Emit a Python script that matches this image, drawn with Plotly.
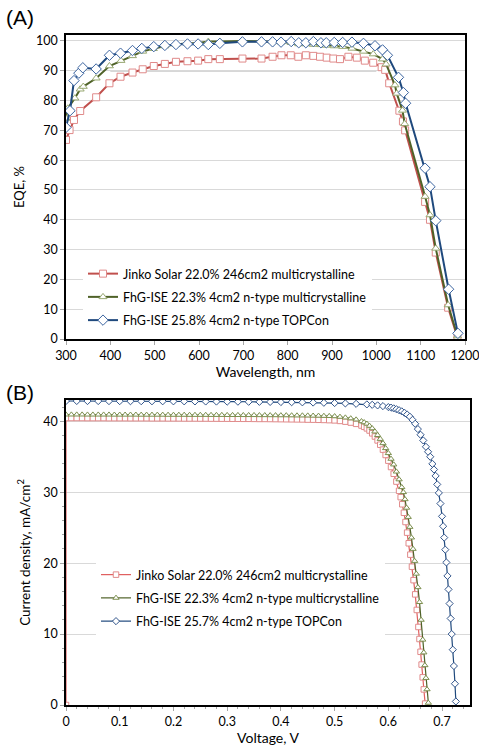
import plotly.graph_objects as go

# ---------------- (A) EQE data ----------------
names_eqe = ["Jinko Solar 22.0% 246cm2 multicrystalline",
             "FhG-ISE 22.3% 4cm2 n-type multicrystalline",
             "FhG-ISE 25.8% 4cm2 n-type TOPCon"]

wl_jinko = [300, 308, 318, 332, 368, 398, 423, 450, 473, 498, 523, 548, 574, 598, 621, 647, 698, 741, 766,
            786, 807, 824, 841, 858, 873, 888, 903, 918, 937, 956, 974, 993, 1012, 1020, 1029, 1052, 1060,
            1065, 1110, 1121, 1134, 1162, 1183]
eqe_jinko = [66.8, 70.1, 73.5, 76.5, 81.1, 85.8, 88.0, 89.4, 90.5, 91.6, 92.3, 93.0, 93.2, 93.4, 93.9, 93.9,
             94.1, 94.1, 94.7, 95.2, 95.2, 94.7, 95.2, 95.0, 94.7, 94.4, 94.1, 93.9, 94.7, 94.4, 93.4, 92.7,
             91.2, 90.3, 85.8, 76.6, 73.0, 70.0, 46.0, 40.0, 29.0, 10.5, 0.5]

wl_fhg_mc = [300, 304, 320, 332, 339, 368, 398, 424, 450, 473, 497, 523, 548, 574, 598, 621, 647, 698, 741,
             766, 785, 808, 825, 841, 858, 875, 887, 905, 924, 945, 971, 993, 1014, 1022, 1042, 1046, 1059,
             1064, 1110, 1121, 1134, 1162, 1183]
eqe_fhg_mc = [74.0, 77.4, 80.8, 83.8, 84.7, 87.5, 91.6, 93.4, 95.0, 96.5, 97.4, 98.3, 98.8, 99.2, 99.3, 99.8,
              99.8, 100.0, 99.9, 99.8, 99.6, 99.4, 99.0, 99.0, 98.8, 98.7, 98.5, 98.3, 98.1, 97.5, 96.5, 95.6,
              93.9, 92.2, 85.2, 82.4, 76.7, 72.2, 47.8, 41.6, 30.4, 11.4, 1.0]

wl_topcon = [300, 309, 318, 329, 338, 368, 398, 423, 450, 471, 498, 523, 548, 574, 598, 621, 647, 698, 741,
             766, 785, 808, 825, 841, 858, 875, 887, 905, 924, 945, 971, 997, 1014, 1025, 1050, 1061, 1066,
             1110, 1121, 1134, 1163, 1184]
eqe_topcon = [71.0, 76.6, 86.7, 89.2, 91.0, 90.6, 95.2, 95.9, 96.8, 97.5, 98.1, 98.5, 98.8, 99.0, 99.0, 98.8,
              99.2, 99.7, 99.7, 99.7, 99.6, 99.8, 99.4, 99.4, 99.8, 99.4, 99.4, 99.5, 99.5, 99.6, 99.2, 98.4,
              97.0, 95.2, 87.8, 82.7, 79.1, 57.3, 51.1, 39.7, 16.7, 1.9]

# ---------------- (B) J-V data ----------------
names_jv = ["Jinko Solar 22.0% 246cm2 multicrystalline",
            "FhG-ISE 22.3% 4cm2 n-type multicrystalline",
            "FhG-ISE 25.7% 4cm2 n-type TOPCon"]

v_flat_fine = [0.00, 0.01, 0.02, 0.03, 0.04, 0.05, 0.06, 0.07, 0.08, 0.09,
               0.10, 0.11, 0.12, 0.13, 0.14, 0.15, 0.16, 0.17, 0.18, 0.19,
               0.20, 0.21, 0.22, 0.23, 0.24, 0.25, 0.26, 0.27, 0.28, 0.29,
               0.30, 0.31, 0.32, 0.33, 0.34, 0.35, 0.36, 0.37, 0.38, 0.39,
               0.40, 0.41, 0.42, 0.43, 0.44, 0.45, 0.46, 0.47, 0.48, 0.49, 0.50]

v_jinko_knee = [0.51, 0.52, 0.53, 0.54, 0.55, 0.555, 0.56, 0.565, 0.57, 0.575, 0.58, 0.585, 0.59, 0.595, 0.60,
                0.605, 0.61, 0.615, 0.62, 0.623, 0.626, 0.629, 0.632, 0.635, 0.638, 0.641, 0.644, 0.647, 0.650,
                0.653, 0.656, 0.658, 0.660, 0.662, 0.664, 0.666, 0.6685]
j_jinko_flat = [40.46, 40.46, 40.46, 40.46, 40.45, 40.45, 40.45, 40.45, 40.44, 40.44,
                40.44, 40.44, 40.43, 40.43, 40.43, 40.43, 40.42, 40.42, 40.42, 40.41,
                40.41, 40.41, 40.40, 40.40, 40.40, 40.39, 40.39, 40.38, 40.38, 40.37,
                40.37, 40.36, 40.36, 40.35, 40.35, 40.34, 40.33, 40.33, 40.32, 40.31,
                40.30, 40.29, 40.28, 40.27, 40.26, 40.24, 40.23, 40.21, 40.19, 40.16, 40.13]
j_jinko_knee = [40.05, 39.95, 39.82, 39.64, 39.4, 39.22, 39.0, 38.7, 38.3, 37.85, 37.3, 36.7, 36.0, 35.25, 34.45,
                33.55, 32.6, 31.5, 30.2, 29.3, 28.3, 27.1, 25.8, 24.3, 22.8, 21.2, 19.5, 17.6, 15.6,
                13.4, 11.0, 9.3, 7.5, 5.7, 3.9, 2.2, 0.2]

v_fhg_mc_knee = [0.51, 0.52, 0.53, 0.54, 0.55, 0.555, 0.56, 0.565, 0.57, 0.575, 0.58, 0.585, 0.59, 0.595, 0.60,
                 0.605, 0.61, 0.615, 0.62, 0.625, 0.628, 0.631, 0.634, 0.637, 0.640, 0.643, 0.646, 0.649, 0.652,
                 0.655, 0.658, 0.661, 0.664, 0.666, 0.668, 0.670, 0.672, 0.6745]
j_fhg_mc_flat = [40.94, 40.94, 40.94, 40.94, 40.93, 40.93, 40.93, 40.93, 40.93, 40.92,
                 40.92, 40.92, 40.92, 40.92, 40.91, 40.91, 40.91, 40.91, 40.91, 40.90,
                 40.90, 40.90, 40.90, 40.89, 40.89, 40.89, 40.89, 40.88, 40.88, 40.88,
                 40.87, 40.87, 40.87, 40.86, 40.86, 40.86, 40.85, 40.85, 40.84, 40.84,
                 40.83, 40.83, 40.82, 40.81, 40.81, 40.80, 40.78, 40.77, 40.75, 40.73, 40.70]
j_fhg_mc_knee = [40.62, 40.52, 40.40, 40.24, 40.0, 39.85, 39.65, 39.35, 39.0, 38.55, 38.05, 37.5, 36.9, 36.2, 35.5,
                 34.7, 33.9, 32.9, 31.8, 30.7, 30.0, 29.0, 27.8, 26.5, 25.1, 23.6, 22.0, 20.3, 18.5,
                 16.6, 14.5, 12.0, 9.2, 7.4, 5.6, 3.8, 2.2, 0.3]

v_topcon = [0.00, 0.02, 0.04, 0.06, 0.08, 0.10, 0.12, 0.14, 0.16, 0.18,
            0.20, 0.22, 0.24, 0.26, 0.28, 0.30, 0.32, 0.34, 0.36, 0.38,
            0.40, 0.42, 0.44, 0.46, 0.48, 0.50, 0.52, 0.54, 0.56,
            0.57, 0.58, 0.59, 0.60, 0.605, 0.61, 0.615, 0.62, 0.625, 0.63, 0.635, 0.64, 0.645, 0.65,
            0.655, 0.66, 0.665, 0.67, 0.674, 0.678, 0.682, 0.685, 0.688, 0.691, 0.694, 0.697, 0.700,
            0.702, 0.704, 0.706, 0.708, 0.710, 0.712, 0.714, 0.716, 0.718, 0.720, 0.722, 0.724, 0.7257]
j_topcon = [42.86, 42.86, 42.85, 42.85, 42.84, 42.84, 42.83, 42.83, 42.82, 42.82,
            42.81, 42.81, 42.80, 42.79, 42.78, 42.77, 42.76, 42.75, 42.74, 42.73,
            42.71, 42.69, 42.67, 42.64, 42.61, 42.57, 42.52, 42.46, 42.38,
            42.32, 42.24, 42.14, 42.0, 41.92, 41.82, 41.7, 41.56, 41.4, 41.2, 40.95, 40.65, 40.2, 39.65,
            38.9, 38.1, 37.3, 36.4, 35.7, 35.0, 34.0, 33.2, 32.3, 31.1, 29.9, 28.4, 26.6,
            25.2, 23.6, 21.9, 20.1, 18.2, 16.3, 14.3, 12.2, 10.0, 7.8, 5.5, 3.0, 0.5]

v_jinko = [0.0] + v_flat_fine + v_jinko_knee
j_jinko = [0.0] + j_jinko_flat + j_jinko_knee
v_fhg_mc = v_flat_fine + v_fhg_mc_knee
j_fhg_mc = j_fhg_mc_flat + j_fhg_mc_knee

# ---------------- styles ----------------
RED, RED_M = "#c0504d", "#e08a8a"
GRN, GRN_M = "#4f6228", "#98a872"
BLU, BLU_M = "#1f497d", "#3b64a0"
FONT = "Lato"
W, H = 479, 746
ML, MR, MT, MB = 66, 9, 35, 41
PW, PH = W - ML - MR, H - MT - MB


def xd(a, b):
    return [(a - ML) / PW, (b - ML) / PW]


def yd(top, bot):
    return [(H - MB - bot) / PH, (H - MB - top) / PH]


fig = go.Figure()

# top panel
for i, (wl, eq, nm, col, mcol, sym) in enumerate([
        (wl_jinko, eqe_jinko, names_eqe[0], RED, RED_M, "square"),
        (wl_fhg_mc, eqe_fhg_mc, names_eqe[1], GRN, GRN_M, "triangle-up"),
        (wl_topcon, eqe_topcon, names_eqe[2], BLU, BLU_M, "diamond")]):
    fig.add_trace(go.Scatter(
        x=wl, y=eq, name=nm, mode="lines+markers", xaxis="x", yaxis="y", legend="legend",
        legendgroup="a%d" % i,
        line=dict(color=col, width=2),
        marker=dict(symbol=sym, size=7 if sym != "diamond" else 8, color="white",
                    line=dict(color=mcol, width=1))))

# bottom panel
for i, (v, j, nm, col, mcol, sym) in enumerate([
        (v_jinko, j_jinko, names_jv[0], "#e06060", RED_M, "square"),
        (v_fhg_mc, j_fhg_mc, names_jv[1], GRN, "#7d8f4f", "triangle-up"),
        (v_topcon, j_topcon, names_jv[2], BLU, "#33568c", "diamond")]):
    fig.add_trace(go.Scatter(
        x=v, y=j, name=nm, mode="lines+markers", xaxis="x2", yaxis="y2", legend="legend2",
        legendgroup="b%d" % i,
        line=dict(color=col, width=1.2),
        marker=dict(symbol=sym, size=5.5, color="white", line=dict(color=mcol, width=1))))

grid = "#d9d9d9"
axis_common = dict(showline=True, linecolor="black", linewidth=1.5, mirror=True,
                   ticks="outside", ticklen=4, tickcolor="#a6a6a6",
                   tickfont=dict(family=FONT, size=12.5, color="black"),
                   zeroline=False, automargin=False, ticklabeloverflow="allow")

fig.update_layout(
    width=W, height=H, margin=dict(l=ML, r=MR, t=MT, b=MB, autoexpand=False),
    paper_bgcolor="white", plot_bgcolor="white",
    font=dict(family=FONT, color="black"),
    xaxis=dict(domain=xd(66, 465), range=[300, 1200], dtick=100, anchor="y",
               showgrid=False,
               title=dict(text="Wavelength, nm", font=dict(family=FONT, size=14), standoff=4),
               **axis_common),
    yaxis=dict(domain=yd(35, 339), range=[0, 102], dtick=10, anchor="x",
               showgrid=True, gridcolor=grid, gridwidth=1,
               title=dict(text="EQE, %", font=dict(family=FONT, size=13), standoff=8),
               **axis_common),
    xaxis2=dict(domain=xd(66, 470), range=[0, 0.752], dtick=0.1, anchor="y2",
                showgrid=False,
                minor=dict(dtick=0.02, ticks="outside", ticklen=2, tickcolor="#a6a6a6"),
                title=dict(text="Voltage, V", font=dict(family=FONT, size=14), standoff=15),
                **axis_common),
    yaxis2=dict(domain=yd(400, 705), range=[0, 43], dtick=10, anchor="x2",
                showgrid=True, gridcolor=grid, gridwidth=1,
                minor=dict(dtick=2, ticks="outside", ticklen=2, tickcolor="#a6a6a6", showgrid=False),
                title=dict(text="Current density, mA/cm<sup>2</sup>", font=dict(family=FONT, size=13.5),
                           standoff=10),
                **axis_common),
    legend=dict(x=(83 - ML) / PW, y=(H - MB - 259) / PH, xanchor="left", yanchor="top",
                bgcolor="white", borderwidth=0, itemwidth=30,
                font=dict(family=FONT, size=12.5), tracegroupgap=4),
    legend2=dict(x=(96 - ML) / PW, y=(H - MB - 560) / PH, xanchor="left", yanchor="top",
                 bgcolor="white", borderwidth=0, itemwidth=30,
                 font=dict(family=FONT, size=12.5), tracegroupgap=4),
    showlegend=True,
    shapes=[dict(type="line", xref="x", yref="y", x0=400, x1=1000, y0=90, y1=90,
                 line=dict(color="#606060", width=1), layer="below")],
    annotations=[
        dict(text="(A)", x=(4 - ML) / PW, y=(H - MB - 18) / PH, xref="paper", yref="paper",
             xanchor="left", yanchor="middle", showarrow=False,
             font=dict(family="Liberation Sans", size=21)),
        dict(text="(B)", x=(4 - ML) / PW, y=(H - MB - 392) / PH, xref="paper", yref="paper",
             xanchor="left", yanchor="middle", showarrow=False,
             font=dict(family="Liberation Sans", size=21)),
    ],
)

fig.write_html("out.html", config={"displayModeBar": False},
               post_script="document.body.style.margin='0px';document.body.style.overflow='hidden';")
